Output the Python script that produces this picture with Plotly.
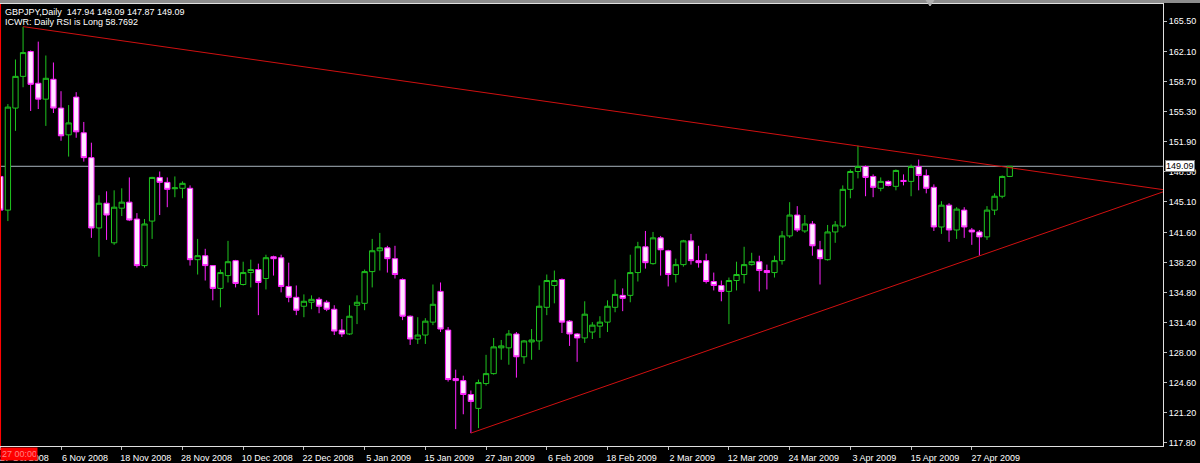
import pandas as pd
import plotly.graph_objects as go

# ---- data (GBPJPY daily) ----
HOLIDAYS = ["2008-12-25", "2009-01-01"]
dates = [d.strftime("%Y-%m-%d") for d in pd.bdate_range("2008-10-27", "2009-05-04")
         if d.strftime("%Y-%m-%d") not in HOLIDAYS]

open_ = [147.94, 144.13, 155.68, 159.27, 162.08, 158.49, 156.69, 158.94, 155.68, 152.65,
         156.92, 152.88, 150.07, 142.11, 144.91, 140.43, 144.35, 145.03, 143.12, 137.85,
         142.89, 147.83, 147.27, 146.55, 146.60, 146.60, 138.52, 138.97, 137.85, 135.27,
         136.72, 138.41, 135.71, 137.06, 137.40, 136.39, 138.85, 138.74, 135.49, 134.26,
         133.25, 133.70, 134.03, 133.70, 132.91, 130.55, 130.11, 133.36, 133.58, 137.17,
         139.53, 139.86, 138.63, 136.28, 132.12, 129.54, 129.99, 131.45, 134.93, 130.55,
         125.06, 124.83, 123.26, 121.69, 124.50, 125.62, 128.54, 128.54, 130.11, 127.53,
         129.21, 129.32, 133.13, 135.60, 136.28, 131.56, 130.11, 129.66, 130.33, 131.00,
         131.45, 133.13, 134.48, 134.48, 137.06, 139.98, 138.07, 140.99, 139.53, 136.84,
         137.96, 140.65, 138.41, 138.41, 136.05, 135.60, 134.93, 136.16, 136.84, 137.96,
         138.29, 137.29, 137.06, 138.41, 141.21, 143.57, 141.77, 142.56, 139.64, 138.52,
         141.66, 142.33, 146.48, 148.50, 149.06, 147.94, 146.60, 147.38, 146.82, 147.49,
         147.38, 149.06, 148.05, 146.71, 142.22, 144.69, 141.88, 144.13, 141.88, 141.66,
         141.10, 144.13, 145.70, 147.94]
high = [148.30, 156.13, 161.18, 164.88, 162.20, 163.20, 161.63, 160.84, 157.59, 156.02,
        157.48, 154.11, 151.76, 145.81, 146.26, 146.37, 146.60, 147.83, 143.79, 143.12,
        147.90, 148.50, 147.83, 147.94, 147.38, 146.93, 140.87, 139.75, 137.90, 137.40,
        140.65, 138.50, 138.29, 138.52, 138.07, 139.08, 138.97, 139.08, 138.18, 135.60,
        134.59, 134.48, 134.26, 133.92, 133.36, 131.79, 133.36, 134.48, 137.40, 140.87,
        141.55, 140.09, 140.09, 136.40, 132.20, 132.01, 131.90, 135.71, 135.94, 130.89,
        126.07, 125.39, 123.71, 124.95, 127.75, 129.66, 129.43, 130.55, 130.33, 129.43,
        130.67, 135.60, 136.84, 137.29, 136.39, 131.68, 130.22, 133.81, 131.45, 132.12,
        133.92, 136.28, 135.27, 139.08, 140.54, 141.77, 141.66, 141.21, 139.64, 138.63,
        140.76, 141.44, 140.09, 139.19, 137.06, 136.16, 136.50, 138.29, 139.98, 139.30,
        138.97, 137.96, 138.97, 141.77, 145.03, 144.58, 143.57, 142.89, 140.65, 142.45,
        142.89, 146.93, 148.73, 151.42, 149.18, 148.17, 147.83, 147.49, 148.73, 148.17,
        149.29, 149.85, 148.73, 147.04, 145.14, 144.91, 144.46, 144.46, 142.11, 141.88,
        144.58, 146.03, 148.05, 149.09]
low = [143.60, 142.89, 153.10, 158.04, 155.35, 155.57, 153.66, 155.12, 151.98, 150.19,
       152.32, 149.62, 140.99, 138.85, 140.76, 140.20, 143.46, 142.89, 137.62, 137.62,
       140.87, 143.57, 144.46, 145.59, 145.47, 137.85, 136.84, 136.16, 133.92, 133.13,
       135.94, 135.38, 135.60, 135.38, 132.24, 135.15, 136.72, 134.82, 133.70, 132.24,
       132.01, 132.91, 132.46, 132.69, 129.99, 129.77, 129.99, 131.23, 132.80, 135.38,
       137.29, 137.06, 136.39, 131.68, 128.87, 128.98, 128.98, 131.11, 130.33, 124.72,
       119.34, 121.02, 118.89, 119.45, 124.27, 125.51, 127.19, 126.63, 125.17, 126.74,
       127.19, 128.31, 132.24, 133.58, 130.22, 128.76, 126.96, 129.10, 129.54, 129.66,
       130.33, 132.57, 132.69, 133.70, 136.05, 137.51, 137.96, 136.72, 135.49, 135.94,
       137.73, 137.96, 137.62, 135.83, 135.04, 133.81, 131.23, 135.04, 135.83, 137.85,
       134.93, 135.15, 136.50, 137.96, 140.99, 141.66, 141.55, 138.97, 135.71, 138.41,
       140.43, 142.11, 145.47, 147.72, 145.70, 145.59, 146.26, 146.82, 146.37, 146.93,
       145.70, 146.37, 146.03, 141.77, 141.44, 140.54, 140.87, 140.99, 140.20, 138.97,
       140.76, 143.57, 145.47, 147.87]
close = [144.13, 155.79, 159.27, 161.96, 158.37, 156.69, 159.05, 155.68, 152.54, 154.00,
         152.99, 150.07, 142.11, 144.91, 143.57, 144.46, 145.03, 143.01, 137.85, 142.56,
         147.83, 147.27, 146.48, 146.65, 147.16, 138.52, 138.97, 137.85, 135.27, 137.06,
         138.29, 135.83, 137.06, 137.40, 135.94, 138.74, 138.63, 135.49, 134.26, 132.80,
         133.81, 134.03, 133.25, 132.91, 130.44, 130.11, 132.12, 133.70, 137.17, 139.53,
         139.86, 138.63, 136.84, 132.12, 129.54, 129.99, 131.56, 133.47, 130.67, 124.95,
         124.83, 123.26, 122.48, 124.61, 125.62, 128.65, 128.76, 130.11, 127.53, 129.32,
         129.43, 133.25, 136.16, 136.16, 131.45, 130.11, 129.66, 132.35, 131.11, 131.45,
         133.25, 134.59, 134.14, 137.06, 139.98, 138.18, 140.99, 139.64, 136.84, 137.96,
         140.65, 138.41, 138.18, 136.05, 135.60, 134.93, 136.16, 136.84, 137.96, 138.29,
         137.29, 137.06, 138.41, 141.21, 143.57, 141.88, 142.56, 140.09, 138.63, 141.66,
         142.45, 146.48, 148.50, 149.06, 147.83, 146.71, 147.38, 146.93, 148.62, 147.38,
         149.06, 148.05, 146.60, 142.22, 144.69, 141.88, 144.24, 142.22, 141.66, 141.10,
         144.13, 145.70, 147.94, 149.09]

price_ticks = [165.50, 162.10, 158.70, 155.30, 151.90, 148.50, 145.10, 141.60,
               138.20, 134.80, 131.40, 128.00, 124.60, 121.20, 117.80]
date_tick_step = 8

# trendline anchors: (date, price)
upper_trend = [("2008-10-30", 164.90), ("2009-05-04", 148.93)]
lower_trend = [("2009-01-23", 118.89), ("2009-04-28", 138.95)]

symbol_text = "GBPJPY,Daily\u00a0 147.94 149.09 147.87 149.09"
indicator_text = "ICWR: Daily RSI is Long 58.7692"
bid = close[-1]

# ---- layout constants ----
X_RANGE = [-0.04, 153.19]
Y_RANGE = [117.43, 167.46]
FONT = "Liberation Sans, Arial, sans-serif"
PLOT_H = 446.0  # plot-area height in px (used for paper offsets of the window strip)
PLOT_W = 1163.0

fig = go.Figure()
fig.add_trace(go.Candlestick(
    x=dates, open=open_, high=high, low=low, close=close,
    increasing=dict(line=dict(color="#1fc41f", width=1), fillcolor="#000000"),
    decreasing=dict(line=dict(color="#ff22ff", width=1), fillcolor="#ffe8ff"),
    whiskerwidth=0, hoverinfo="skip", showlegend=False,
))

shapes = []
# bid line
shapes.append(dict(type="line", xref="paper", x0=0, x1=1, yref="y", y0=bid, y1=bid,
                   line=dict(color="#a9b4bd", width=1), layer="below"))
# trend lines extended to the right edge
for (d0, p0), (d1, p1) in (upper_trend, lower_trend):
    i0, i1 = dates.index(d0), dates.index(d1)
    slope = (p1 - p0) / (i1 - i0)
    xe = X_RANGE[1]
    shapes.append(dict(type="line", xref="x", yref="y", x0=i0, y0=p0, x1=xe,
                       y1=p0 + slope * (xe - i0), line=dict(color="#d01010", width=1)))
# vertical red line at the first bar
shapes.append(dict(type="line", xref="x", yref="paper", x0=0, x1=0, y0=0, y1=1,
                   line=dict(color="#ff0000", width=1.5)))
# top window strip
shapes.append(dict(type="rect", xref="paper", yref="paper", x0=0, x1=1200 / PLOT_W,
                   y0=1 + 1 / PLOT_H, y1=1 + 4 / PLOT_H, line=dict(width=0),
                   fillcolor="#8c8c8c"))
# chart-shift marker (small downward triangle at the top)
tx, ty0, ty1 = 930 / PLOT_W, 1 + 4 / PLOT_H, 1 - 2 / PLOT_H
hw = 4 / PLOT_W
shapes.append(dict(type="path", xref="paper", yref="paper",
                   path=f"M {tx - hw} {ty0} L {tx + hw} {ty0} L {tx} {ty1} Z",
                   fillcolor="#b0b0b0", line=dict(color="#b0b0b0", width=1)))

annotations = [
    dict(text=symbol_text, xref="paper", yref="paper", x=0, y=1, xanchor="left",
         yanchor="middle", xshift=3, yshift=-8, showarrow=False,
         font=dict(family=FONT, size=9, color="#ffffff")),
    dict(text=indicator_text, xref="paper", yref="paper", x=0, y=1, xanchor="left",
         yanchor="middle", xshift=3, yshift=-17.5, showarrow=False,
         font=dict(family=FONT, size=9, color="#ffffff")),
    dict(text=f"{bid:.2f}", xref="paper", yref="y", x=1, y=bid, xanchor="left",
         yanchor="middle", xshift=2, showarrow=False, bgcolor="#ffffff",
         bordercolor="#808080", borderwidth=1, borderpad=0,
         font=dict(family=FONT, size=9, color="#000000")),
    dict(text="27 00:00", xref="paper", yref="paper", x=0, y=0, xanchor="left",
         yanchor="top", yshift=-1, showarrow=False, bgcolor="#ff0000", borderpad=1,
         width=34, align="left",
         font=dict(family=FONT, size=9, color="#ff8080")),
]

tick_dates = dates[::date_tick_step]
tick_text = [pd.Timestamp(d).strftime("%-d %b %Y") for d in tick_dates]

fig.update_layout(
    width=1200, height=463, autosize=False,
    margin=dict(l=0, r=37, t=4, b=13, pad=0),
    paper_bgcolor="#000000", plot_bgcolor="#000000",
    boxgap=0.3, boxgroupgap=0.0,
    shapes=shapes, annotations=annotations,
    xaxis=dict(type="category", range=X_RANGE, rangeslider=dict(visible=False),
               tickmode="array", tickvals=tick_dates, ticktext=tick_text,
               ticks="outside", ticklen=3, tickcolor="#c0c0c0", ticklabelshift=24,
               ticklabelstandoff=0,
               tickfont=dict(family=FONT, size=9, color="#ffffff"),
               showgrid=False, zeroline=False, showline=True, linecolor="#e0e0e0",
               linewidth=1, mirror=True),
    yaxis=dict(side="right", range=Y_RANGE, tickmode="array", tickvals=price_ticks,
               ticktext=[f"{v:.2f}" for v in price_ticks],
               ticks="outside", ticklen=3, tickcolor="#c0c0c0",
               tickfont=dict(family=FONT, size=9, color="#ffffff"),
               showgrid=False, zeroline=False, showline=True, linecolor="#e0e0e0",
               linewidth=1),
    hovermode=False,
)

fig.write_html("out.html", config={"displayModeBar": False},
               post_script="document.body.style.margin='0px';")
